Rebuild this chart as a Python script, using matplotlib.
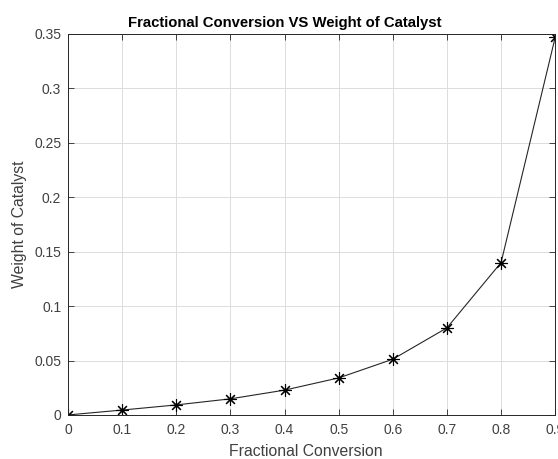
import matplotlib
matplotlib.use('Agg')
import matplotlib.pyplot as plt

conversion = [0, 0.1, 0.2, 0.3, 0.4, 0.5, 0.6, 0.7, 0.8, 0.9]
weight = [0, 0.0045, 0.0092, 0.0148, 0.0228, 0.0340, 0.0512, 0.0800, 0.1400, 0.3470]

xticks = [0, 0.1, 0.2, 0.3, 0.4, 0.5, 0.6, 0.7, 0.8, 0.9]
xtick_labels = ['0', '0.1', '0.2', '0.3', '0.4', '0.5', '0.6', '0.7', '0.8', '0.9']
yticks = [0, 0.05, 0.1, 0.15, 0.2, 0.25, 0.3, 0.35]
ytick_labels = ['0', '0.05', '0.1', '0.15', '0.2', '0.25', '0.3', '0.35']

plt.rcParams['font.family'] = ['Liberation Sans', 'DejaVu Sans']

fig = plt.figure(figsize=(5.58, 4.59), dpi=100)
ax = fig.add_axes([0.122, 0.096, 0.873, 0.830])

ax.plot(conversion, weight, '-', color='#262626', linewidth=0.8)
# matlab style asterisk marker (+ and x overlaid)
ax.plot(conversion, weight, linestyle='none', marker=(8, 2, 0), color='black',
        markersize=9, markeredgewidth=0.8)

ax.set_xlim(0, 0.9)
ax.set_ylim(0, 0.35)
ax.set_xticks(xticks)
ax.set_xticklabels(xtick_labels)
ax.set_yticks(yticks)
ax.set_yticklabels(ytick_labels)
ax.grid(True, color='#dcdcdc', linewidth=0.7)
ax.set_axisbelow(True)
ax.tick_params(direction='in', length=4, width=0.6, colors='#262626',
               labelsize=10, top=True, right=True, labelcolor='#404040')
ax.tick_params(axis='x', pad=6)
ax.tick_params(axis='y', pad=5)
for s in ax.spines.values():
    s.set_color('#262626')
    s.set_linewidth(0.7)

ax.set_title('Fractional Conversion VS Weight of Catalyst', fontsize=10.7,
             fontweight='bold', pad=5, x=0.444)
ax.set_xlabel('Fractional Conversion', fontsize=11.3, color='#404040', labelpad=3)
ax.xaxis.set_label_coords(0.489, -0.075)
ax.set_ylabel('Weight of Catalyst', fontsize=11.3, color='#404040', labelpad=5)

fig.savefig('out.png', dpi=100)
